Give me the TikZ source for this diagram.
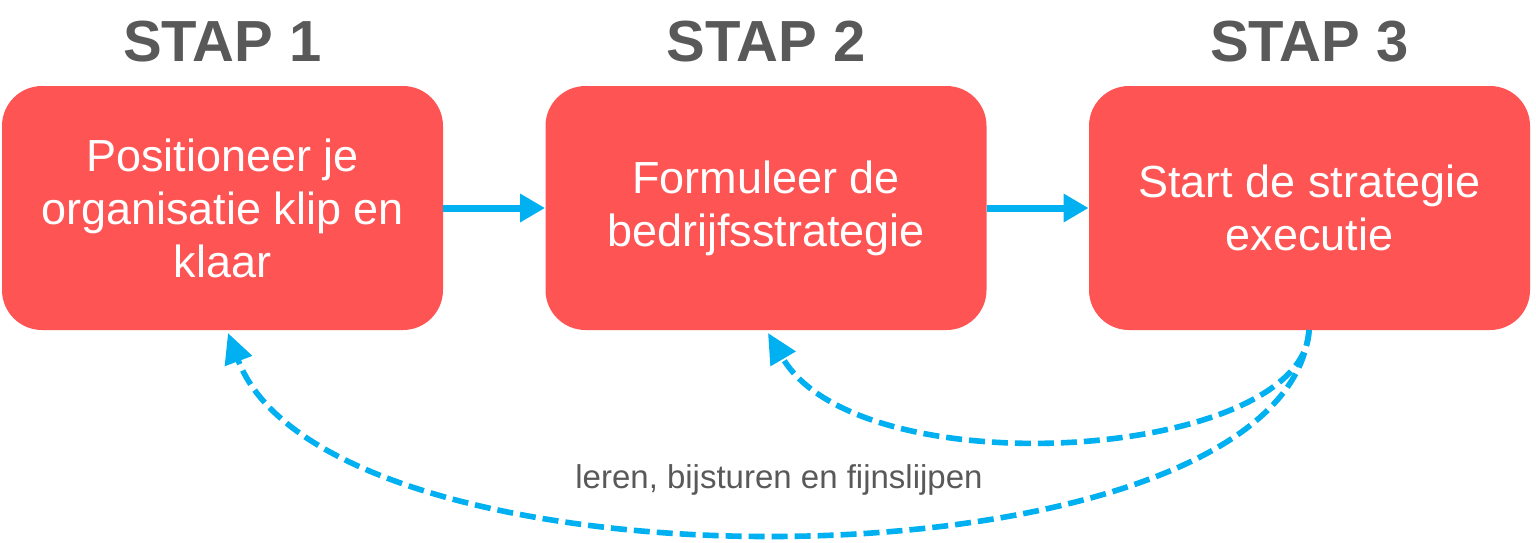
\documentclass[tikz,border=0pt]{standalone}
\usepackage{fontspec}
\setmainfont{Liberation Sans}
\usetikzlibrary{arrows.meta,positioning}
\definecolor{stapred}{HTML}{FF5454}
\definecolor{stapgray}{HTML}{595959}
\definecolor{stapcyan}{HTML}{00B0F0}
\begin{document}
\begin{tikzpicture}[x=0.5pt,y=-0.5pt,
stapbox/.style = {fill = stapred, rounded corners = 20pt, minimum width = 220.5pt, minimum height = 122pt, inner sep = 0pt, text = white, align = center, font = \fontsize{22.5}{26.5}\selectfont},
staptitle/.style = {text = stapgray, font = \fontsize{29}{32}\selectfont\bfseries},
flow/.style = {draw = stapcyan, line width = 3.5pt, -{Triangle[length = 12.5pt, width = 13.5pt]}},
loop/.style = {draw = stapcyan, line width = 2.8pt, dash pattern = on 8pt off 3.5pt, -{Triangle[length = 15pt, width = 14pt]}},]
\useasboundingbox (0,0) rectangle (1536,542);
\node (B1) at (222.5,208)[stapbox] {Positioneer je\\organisatie klip en\\klaar};
\node (B2) at (766,208)[stapbox] {Formuleer de\\bedrijfsstrategie};
\node (B3) at (1309.5,208)[stapbox] {Start de strategie\\executie};
\node (T1) at (222.5,42)[staptitle] {STAP 1};
\node (T2) at (766,42)[staptitle] {STAP 2};
\node (T3) at (1309.5,42)[staptitle] {STAP 3};
\coordinate (S3) at (1309,330);
\coordinate (E2) at (768,333);
\coordinate (E1) at (228,333);
\draw[flow] (B1)--(B2);
\draw[flow] (B2)--(B3);
\draw[loop] (S3) .. controls (1305,460) and (860,490) .. (E2);
\draw[loop] (S3) .. controls (1285,595) and (330,605) .. (E1);
\node (L) at (779,480)[text = stapgray, font = \fontsize{16.5}{20}\selectfont] {leren, bijsturen en fijnslijpen};
\end{tikzpicture}
\end{document}
